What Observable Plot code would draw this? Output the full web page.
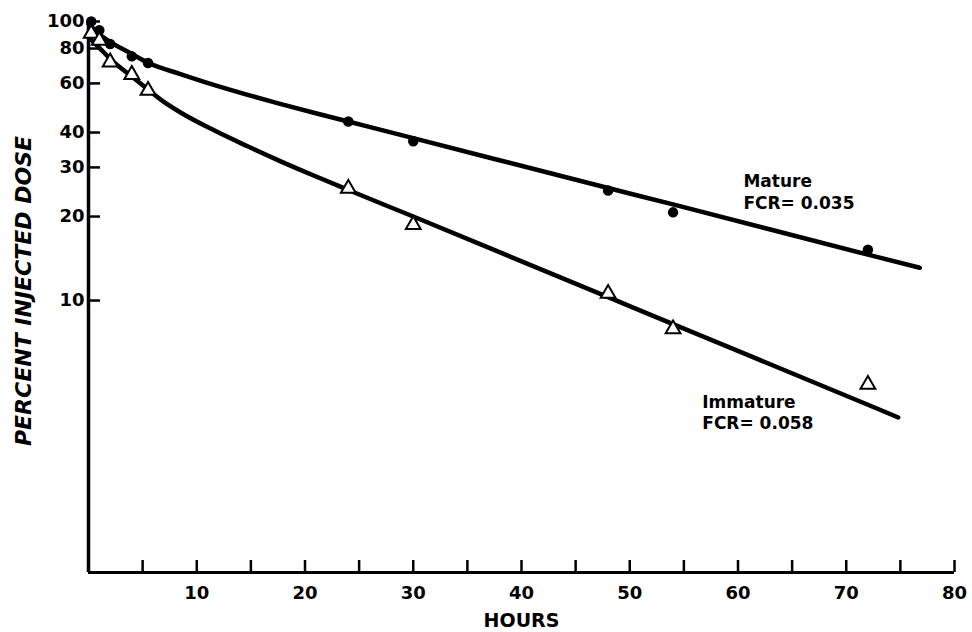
<!DOCTYPE html>
<html>
<head>
<meta charset="utf-8">
<script src="https://cdn.jsdelivr.net/npm/d3@7"></script>
<script src="https://cdn.jsdelivr.net/npm/@observablehq/plot@0.6"></script>
<style>
  html, body { margin: 0; padding: 0; background: #fff; }
</style>
</head>
<body>
<div id="chart"></div>
<script>
// Measured sample times (hours) and percent of injected dose
const matureHours = [0.25, 1, 2, 4, 5.5, 24, 30, 48, 54, 72];
const matureDose  = [100, 93, 83, 75, 71, 43.8, 37.2, 24.8, 20.7, 15.2];
const immatureHours = [0.25, 1, 2, 4, 5.5, 24, 30, 48, 54, 72];
const immatureDose  = [90.6, 85.5, 71.5, 64.5, 56.6, 25.2, 18.7, 10.6, 7.9, 5.0];

// Fitted curves
const matureFitHours = [0, 1, 2, 4, 5.5, 8.5, 11.5, 14.7, 17.7, 21, 24, 30, 48, 54, 72, 76.8];
const matureFitDose  = [98, 90, 84.5, 76.5, 71.1, 64.8, 59.4, 54.6, 50.7, 46.9, 43.8, 38.2, 25.3, 22.1, 14.6, 13.1];
const immatureFitHours = [0, 1, 2, 4, 5.5, 7, 8.5, 11.5, 14.7, 17.7, 20.8, 24, 30, 48, 54, 72, 74.8];
const immatureFitDose  = [88, 80.5, 73.5, 63.5, 57, 51.4, 47.2, 40.9, 35.7, 31.6, 28.05, 24.9, 20.0, 10.28, 8.23, 4.23, 3.81];

// Axis ticks
const xTicks = [5, 10, 15, 20, 25, 30, 35, 40, 45, 50, 55, 60, 65, 70, 75, 80];
const xTickLabels = [10, 20, 30, 40, 50, 60, 70, 80];
const yTicks = [10, 20, 30, 40, 60, 80, 100];
const xDomain = [0, 80];
const yDomain = [1.06, 100];

// Series labels
const labelNames = ["Mature\nFCR= 0.035", "Immature\nFCR= 0.058"];
const labelHours = [60.5, 56.7];
const labelDose  = [28.8, 4.68];

const zip = (xs, ys) => xs.map((t, i) => ({t, v: ys[i]}));
const mature = zip(matureHours, matureDose);
const immature = zip(immatureHours, immatureDose);
const matureFit = zip(matureFitHours, matureFitDose);
const immatureFit = zip(immatureFitHours, immatureFitDose);
const labels = labelNames.map((name, i) => ({name, t: labelHours[i], v: labelDose[i]}));

const chart = Plot.plot({
  width: 972,
  height: 632,
  marginLeft: 88,
  marginRight: 18,
  marginTop: 21,
  marginBottom: 60,
  x: {domain: xDomain},
  y: {type: "log", domain: yDomain},
  style: {fontFamily: "DejaVu Sans", fontWeight: "bold", fontSize: "18px", background: "#fff", color: "#000"},
  marks: [
    Plot.axisX({ticks: xTicks, tickSize: -12, strokeWidth: 2.5, tickFormat: () => "", label: null}),
    Plot.axisX({ticks: xTickLabels, tickSize: 0, tickPadding: 14, tickFormat: d => String(d), label: null, fontSize: 18}),
    Plot.axisY({ticks: yTicks, tickSize: -12, strokeWidth: 2.5, tickFormat: () => "", label: null}),
    Plot.text(yTicks, {y: d => d, frameAnchor: "left", dx: -4, textAnchor: "end", text: d => String(d), fontSize: 18, fontWeight: "bold"}),
    Plot.ruleY([yDomain[0]], {strokeWidth: 3}),
    Plot.ruleX([xDomain[0]], {strokeWidth: 3.5}),
    Plot.text(["HOURS"], {frameAnchor: "bottom", dy: 54, fontSize: 19, fontWeight: "bold"}),
    Plot.text(["PERCENT INJECTED DOSE"], {frameAnchor: "left", dx: -65, dy: -6, rotate: -90, textAnchor: "middle", fontSize: 22, fontWeight: "bold", fontStyle: "italic"}),
    Plot.line(matureFit, {x: "t", y: "v", curve: "monotone-x", stroke: "#000", strokeWidth: 4.5}),
    Plot.line(immatureFit, {x: "t", y: "v", curve: "monotone-x", stroke: "#000", strokeWidth: 4.5}),
    Plot.dot(mature, {x: "t", y: "v", r: 4.5, fill: "#000", stroke: "#000"}),
    Plot.dot(immature, {x: "t", y: "v", r: 5.5, symbol: "triangle", fill: "#fff", stroke: "#000", strokeWidth: 2}),
    Plot.text(labels, {x: "t", y: "v", text: "name", textAnchor: "start", lineAnchor: "top", lineHeight: 1.25, fontSize: 17, fontWeight: "bold"})
  ]
});
document.getElementById("chart").appendChild(chart);
</script>
</body>
</html>
